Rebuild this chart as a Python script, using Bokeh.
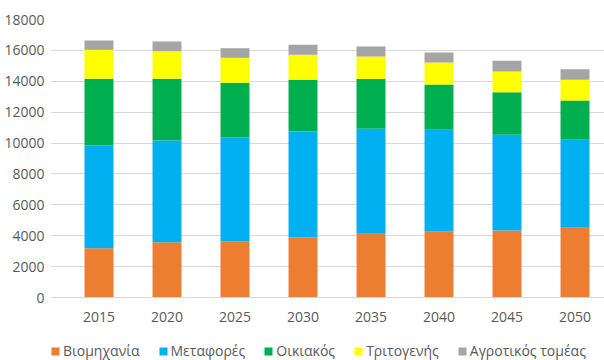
from bokeh.plotting import figure
from bokeh.models import ColumnDataSource, FixedTicker, Legend, LegendItem, Range1d
from bokeh.embed import file_html
from bokeh.resources import INLINE

years = [2015, 2020, 2025, 2030, 2035, 2040, 2045, 2050]
industry = [3190, 3580, 3630, 3900, 4120, 4290, 4340, 4510]
transport = [6650, 6590, 6750, 6850, 6800, 6570, 6200, 5700]
residential = [4320, 3990, 3520, 3350, 3220, 2930, 2750, 2550]
tertiary = [1880, 1790, 1620, 1610, 1460, 1430, 1340, 1340]
agriculture = [600, 630, 620, 650, 650, 640, 700, 680]

series = ["industry", "transport", "residential", "tertiary", "agriculture"]
labels = ["Βιομηχανία", "Μεταφορές", "Οικιακός", "Τριτογενής", "Αγροτικός τομέας"]
colors = ["#ED7D31", "#00B0F0", "#00B050", "#FFFF00", "#A5A5A5"]
y_ticks = list(range(0, 18001, 2000))

source = ColumnDataSource(dict(year=years, industry=industry, transport=transport,
                               residential=residential, tertiary=tertiary,
                               agriculture=agriculture))

FONT = "Open Sans"
TXT = "#595959"

# frame spans to the bottom of the canvas; the space under 0 holds year labels and legend
p = figure(width=604, height=360, output_backend="svg", toolbar_location=None,
           x_range=Range1d(2011.434, 2052.169), y_range=Range1d(-4079.1, 18000),
           min_border_left=50, min_border_right=0, min_border_top=19, min_border_bottom=0)
p.outline_line_color = None
p.background_fill_color = "white"
p.border_fill_color = "white"

renderers = p.vbar_stack(series, x="year", width=2.13, color=colors, line_color=None,
                         source=source)

p.xaxis.ticker = FixedTicker(ticks=years)
p.yaxis.ticker = FixedTicker(ticks=y_ticks)
p.xaxis.fixed_location = 0
p.xgrid.grid_line_color = None
p.ygrid.grid_line_color = "#D9D9D9"
p.ygrid.grid_line_width = 1

for ax in (p.xaxis, p.yaxis):
    ax.major_tick_line_color = None
    ax.minor_tick_line_color = None
    ax.major_label_text_font = FONT
    ax.major_label_text_font_size = "14px"
    ax.major_label_text_color = TXT
p.yaxis.axis_line_color = None
p.xaxis.axis_line_color = "#D9D9D9"
p.yaxis.major_label_standoff = 0
p.xaxis.major_label_standoff = 8

items = [LegendItem(label=l, renderers=[r]) for l, r in zip(labels, renderers)]
legend = Legend(items=items, orientation="horizontal", location=(0, 0),
                label_text_font=FONT, label_text_font_size="14px", label_text_color=TXT,
                glyph_width=10, glyph_height=10, label_standoff=3, spacing=18,
                padding=0, margin=0, border_line_color=None, background_fill_alpha=0,
                label_height=14)
p.add_layout(legend, "center")

open("out.html", "w").write(file_html(p, INLINE))
